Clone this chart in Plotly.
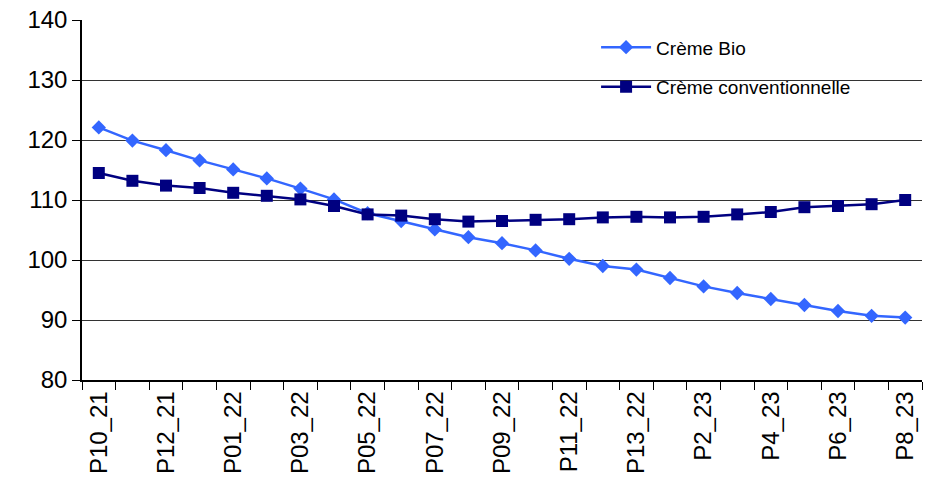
import plotly.graph_objects as go

categories = ["P10_21", "P11_21", "P12_21", "P13_21", "P01_22", "P02_22", "P03_22",
              "P04_22", "P05_22", "P06_22", "P07_22", "P08_22", "P09_22", "P10_22",
              "P11_22", "P12_22", "P13_22", "P1_23", "P2_23", "P3_23", "P4_23",
              "P5_23", "P6_23", "P7_23", "P8_23"]
creme_bio = [122.1, 119.9, 118.3, 116.6, 115.1, 113.6, 111.9, 110.1, 107.8, 106.5,
             105.1, 103.8, 102.8, 101.6, 100.2, 99.0, 98.4, 97.0, 95.6, 94.5,
             93.5, 92.5, 91.5, 90.7, 90.4]
creme_conv = [114.5, 113.2, 112.4, 112.0, 111.2, 110.7, 110.1, 109.0, 107.6, 107.4,
              106.8, 106.4, 106.5, 106.7, 106.8, 107.1, 107.2, 107.1, 107.2, 107.6,
              108.0, 108.8, 109.0, 109.3, 110.0]
tick_labels = [c if i % 2 == 0 else "" for i, c in enumerate(categories)]
y_ticks = [80, 90, 100, 110, 120, 130, 140]

FONT = "Liberation Sans, Arial, sans-serif"

fig = go.Figure()
fig.add_trace(go.Scatter(
    x=categories, y=creme_bio, name="Crème Bio", mode="lines+markers",
    line=dict(color="#3366FF", width=2.5),
    marker=dict(symbol="diamond", size=11, color="#3366FF"),
    legendgroup="a"))
fig.add_trace(go.Scatter(
    x=categories, y=creme_conv, name="Crème conventionnelle", mode="lines+markers",
    line=dict(color="#000080", width=2.5),
    marker=dict(symbol="square", size=12, color="#000080"),
    legendgroup="b"))

fig.add_shape(type="rect", xref="paper", yref="paper",
              x0=0.5726, x1=0.9595, y0=0.75, y1=0.972,
              fillcolor="white", line=dict(width=0), layer="between")

fig.update_layout(
    width=926, height=487,
    margin=dict(l=82, r=4, t=20, b=107, pad=0, autoexpand=False),
    paper_bgcolor="white", plot_bgcolor="white",
    font=dict(family=FONT, color="black"),
    showlegend=True,
    legend=dict(x=0.612, y=0.977, xanchor="left", yanchor="top",
                bgcolor="rgba(0,0,0,0)", font=dict(size=19, family=FONT),
                tracegroupgap=12, itemwidth=50),
    xaxis=dict(type="category", range=[-0.5, 24.5], autorange=False,
               tickmode="array", tickvals=categories, automargin=False,
               ticktext=tick_labels, tickson="boundaries", ticks="outside",
               ticklen=8, tickcolor="black", tickangle=-90,
               tickfont=dict(size=24, family=FONT), showgrid=False,
               showline=True, linecolor="black", linewidth=1.5,
               ticklabeloverflow="allow"),
    yaxis=dict(range=[80, 140], autorange=False, tickmode="array",
               tickvals=y_ticks, ticklabeloverflow="allow", automargin=False,
               ticks="outside", ticklen=8, tickcolor="black",
               tickfont=dict(size=24, family=FONT), showgrid=True,
               gridcolor="#333333", gridwidth=1, showline=True,
               linecolor="black", linewidth=1.5, zeroline=False),
)

fig.write_html(
    "out.html",
    config={"displayModeBar": False},
    post_script="document.body.style.margin='0';document.body.style.overflow='hidden';",
)
